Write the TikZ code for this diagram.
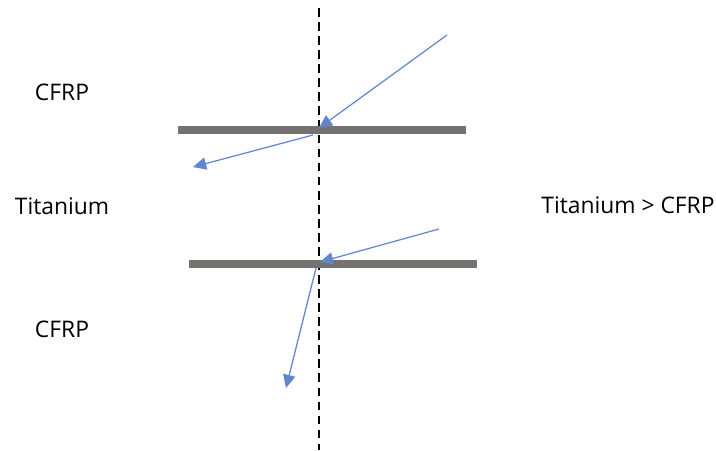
\documentclass[tikz,border=0pt]{standalone}
\usepackage{fontspec}
\setmainfont{Open Sans}
\usepackage{xcolor}
\usepackage{tikz}
\usetikzlibrary{arrows.meta, positioning, calc}
\definecolor{raygray}{HTML}{767171}
\definecolor{rayblue}{HTML}{4472C4}

\begin{document}
\begin{tikzpicture}[
    x=0.02cm, y=-0.02cm,
    font=\fontsize{13}{15}\selectfont,
    lbl/.style={inner sep=0pt, anchor=center},
    iface/.style={line width=4pt, raygray},
    normal/.style={dashed, line width=1.1pt, black, dash pattern=on 5pt off 3pt},
    ray/.style={-{Triangle[length=7.5pt, width=7pt]}, line width=0.7pt, rayblue!85}
]
\useasboundingbox (0,0) rectangle (716,450);
% normal and the two interfaces
\coordinate (ntop) at (319,8);
\coordinate (nbot) at (319,450);
\draw[normal] (ntop) -- (nbot);
\coordinate (if1l) at (178,130); \coordinate (if1r) at (466,130);
\coordinate (if2l) at (189,264); \coordinate (if2r) at (477,264);
\draw[iface] (if1l) -- (if1r);
\draw[iface] (if2l) -- (if2r);
% rays
\coordinate (r1a) at (447,35);  \coordinate (r1b) at (319,128);
\coordinate (r2a) at (313,135); \coordinate (r2b) at (193,167);
\coordinate (r3a) at (439,229); \coordinate (r3b) at (320,262);
\coordinate (r4a) at (316,268); \coordinate (r4b) at (286,388);
\draw[ray] (r1a) -- (r1b);
\draw[ray] (r2a) -- (r2b);
\draw[ray] (r3a) -- (r3b);
\draw[ray] (r4a) -- (r4b);
% labels
\node[lbl] (cfrp1) at (62,92) {CFRP};
\node[lbl] (ti) at (62,206) {Titanium};
\node[lbl] (cfrp2) at (62,329) {CFRP};
\node[lbl] (cmp) at (628,205) {Titanium > CFRP};
\end{tikzpicture}
\end{document}
